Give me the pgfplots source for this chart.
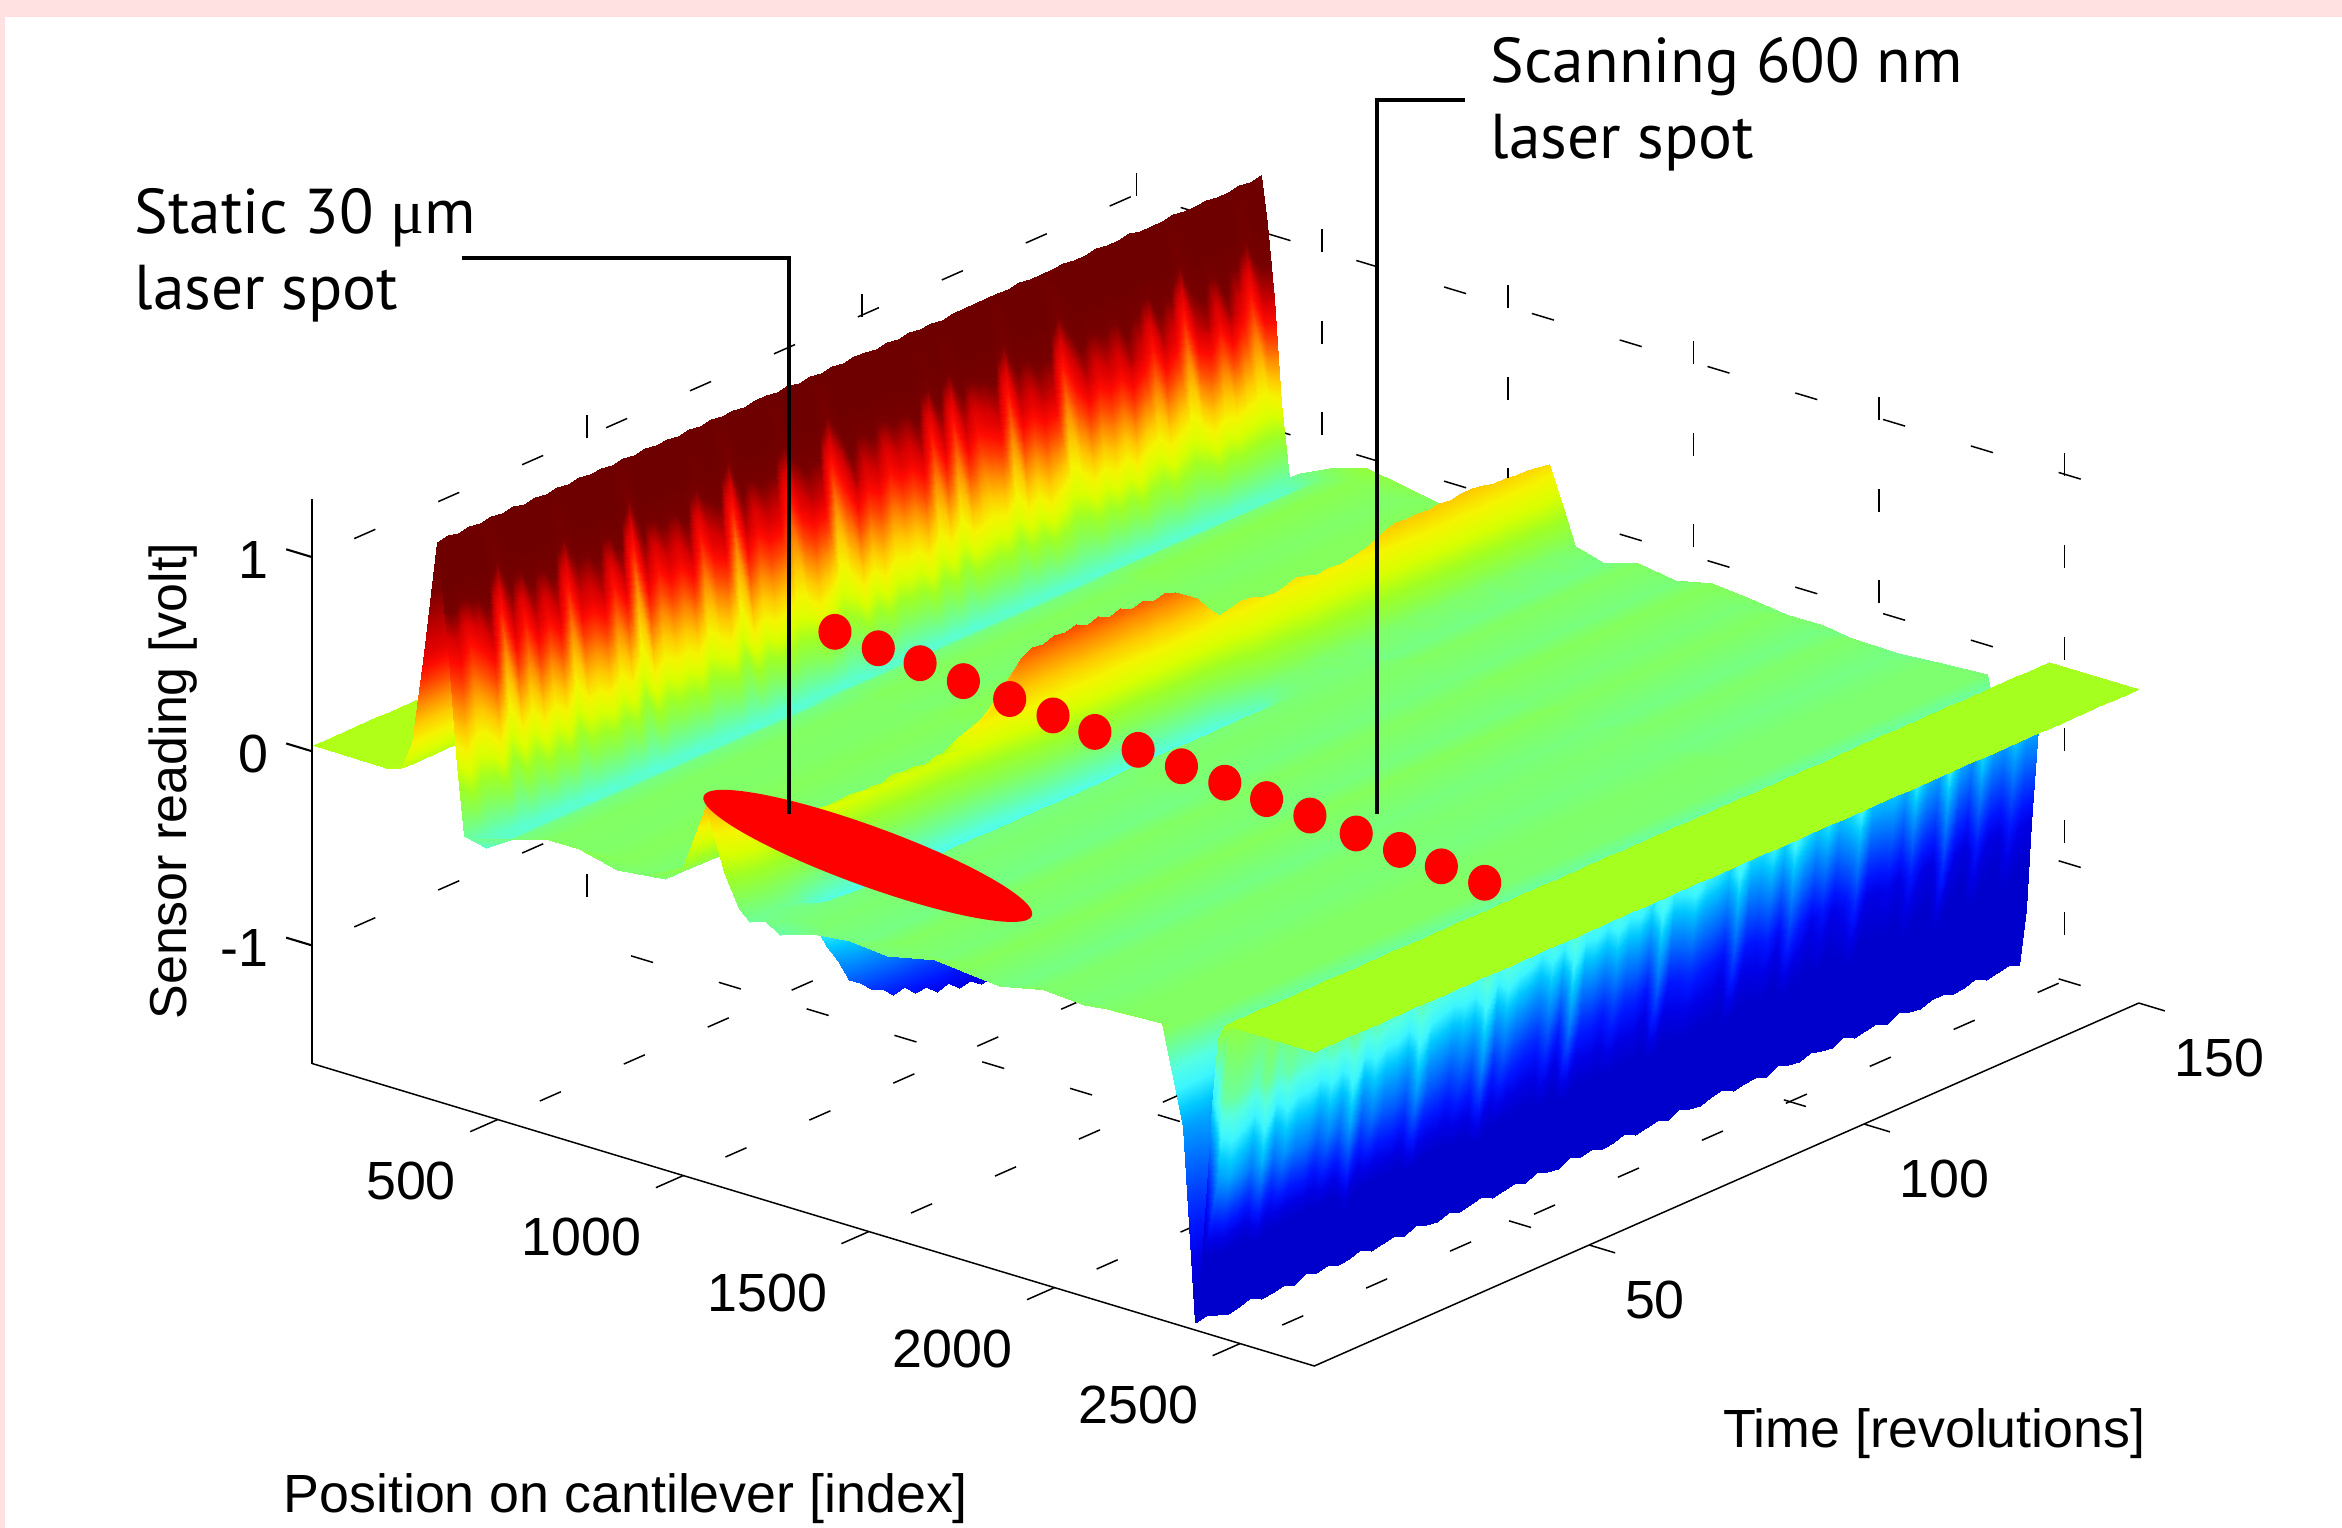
\documentclass[border=0pt]{standalone}
\usepackage{fontspec}
\setmainfont{Liberation Sans}
\newfontfamily\anno{PT Sans}
\newfontfamily\sym{Liberation Serif}
\usepackage{pgfplots}
\pgfplotsset{compat=1.18}
\definecolor{pagepink}{RGB}{255,225,225}
\pgfplotsset{colormap={rjet}{rgb255=(0,0,205) rgb255=(0,0,205) rgb255=(0,0,230) rgb255=(0,20,255) rgb255=(0,60,255) rgb255=(0,105,255) rgb255=(0,150,255) rgb255=(0,200,255) rgb255=(60,245,255) rgb255=(85,255,225) rgb255=(110,255,150) rgb255=(135,255,85) rgb255=(160,255,35) rgb255=(215,255,0) rgb255=(245,245,0) rgb255=(255,200,0) rgb255=(255,140,0) rgb255=(255,70,0) rgb255=(255,10,0) rgb255=(215,0,0) rgb255=(120,0,0) rgb255=(110,0,0)}}
% x;z per column (z empty = z from the row); each row lists the colour values
\def\xlist{0;,200;,240;,270;,300;,335;,350;1.05,370;.68,390;.15,410;,440;,520;,620;,720;,820;,920;,1000;,1060;,1110;,1150;,1180;,1220;,1260;,1350;,1450;,1550;,1650;,1750;,1850;,1950;,2050;,2170;,2290;,2345;,2378;,2395;-1.3,2410;-.85,2425;-.42,2440;-.07,2459;,2700;}
\def\coords{}
\def\popx#1;#2,#3\end{\def\curx{#1}\def\curg{#2}\def\restx{#3}}
\def\doz#1 {\ifx\relax#1\else\expandafter\popx\restx\end\ifx\curg\empty\xdef\coords{\coords(\curx,\cy,#1)[#1]}\else\xdef\coords{\coords(\curx,\cy,\curg)[#1]}\fi\expandafter\doz\fi}
\def\R#1#2#3#4{\def\cy{#1}\edef\restx{\xlist,}\edef\zs{.03 .03 .05 .2 .68 #2 \bgA\space #3 \bgB\space #4 .01 .01 }\expandafter\doz\zs\relax{} }
\def\bgA{-.18 -.11 -.05 -.09 -.12 -.06}\def\bgB{-.17 -.12 -.15 -.11 -.13 -.15 -.15 -.18 -.18 -.16 -.15}
\R{150}{1.29 1.05 .72 .18 -.22}{-.06 .14 .25 .05 -.13 -.15}{-.62 -1.6 -1.38 -1.02 -.62 -.3}
\def\bgA{-.26 -.15 -.09 -.13 -.11 -.12}\def\bgB{-.17 -.12 -.16 -.11 -.15 -.12 -.17 -.13 -.17 -.14 -.14}
\R{148}{1.28 1.04 .7 .14 -.24}{-.07 .15 .26 .04 -.12 -.16}{-.6 -1.58 -1.37 -1 -.62 -.3}
\R{146}{1.29 .84 .54 .14 -.25}{-.07 .14 .27 .06 -.14 -.15}{-.58 -1.59 -1.36 -.92 -.54 -.27}
\R{144}{1.28 1 .66 .16 -.27}{-.08 .15 .27 .04 -.13 -.14}{-.6 -1.6 -1.38 -1.04 -.64 -.32}
\R{142}{1.28 1.04 .75 .18 -.26}{-.07 .15 .28 .05 -.12 -.16}{-.6 -1.57 -1.37 -1.02 -.62 -.3}
\R{140}{1.29 .98 .64 .16 -.28}{-.07 .16 .28 .03 -.14 -.15}{-.58 -1.59 -1.3 -.9 -.5 -.26}
\R{138}{1.28 1.05 .74 .2 -.26}{-.08 .16 .29 .05 -.13 -.15}{-.6 -1.6 -1.38 -1.05 -.66 -.32}
\R{136}{1.28 1.02 .7 .14 -.28}{-.07 .17 .3 .05 -.12 -.14}{-.6 -1.58 -1.36 -1 -.6 -.3}
\R{134}{1.29 .82 .5 .1 -.27}{-.07 .16 .3 .04 -.14 -.16}{-.57 -1.58 -1.25 -.82 -.44 -.24}
\R{132}{1.28 1 .66 .14 -.29}{-.08 .16 .29 .05 -.13 -.15}{-.6 -1.6 -1.37 -1.03 -.62 -.3}
\R{130}{1.28 1.04 .72 .18 -.27}{-.07 .17 .3 .06 -.12 -.15}{-.6 -1.59 -1.36 -1 -.58 -.28}
\R{128}{1.28 .88 .58 .12 -.28}{-.07 .16 .29 .04 -.14 -.14}{-.58 -1.57 -1.33 -.9 -.46 -.24}
\R{126}{1.29 1.02 .68 .14 -.26}{-.08 .16 .3 .05 -.13 -.16}{-.6 -1.6 -1.37 -1.02 -.6 -.3}
\R{124}{1.28 1.05 .74 .2 -.28}{-.07 .15 .29 .05 -.12 -.15}{-.6 -1.58 -1.35 -.97 -.54 -.27}
\R{122}{1.28 .98 .66 .14 -.29}{-.07 .16 .3 .04 -.14 -.15}{-.57 -1.59 -1.36 -1 -.56 -.26}
\R{120}{1.29 1.03 .7 .18 -.27}{-.08 .15 .28 .05 -.13 -.14}{-.6 -1.6 -1.36 -1 -.56 -.28}
\R{118}{1.28 1 .66 .14 -.28}{-.07 .13 .25 .03 -.12 -.16}{-.6 -1.57 -1.28 -.84 -.42 -.22}
\R{116}{1.28 1.04 .72 .18 -.27}{-.07 .12 .23 .03 -.14 -.15}{-.58 -1.6 -1.34 -.95 -.5 -.24}
\R{114}{1.29 .94 .62 .12 -.28}{-.07 .12 .22 .02 -.13 -.15}{-.6 -1.59 -1.36 -1 -.56 -.27}
\R{112}{1.28 .8 .48 .1 -.26}{-.08 .12 .21 .02 -.12 -.14}{-.6 -1.58 -1.33 -.92 -.48 -.22}
\R{110}{1.28 1.03 .7 .16 -.29}{-.07 .12 .22 .02 -.14 -.16}{-.56 -1.6 -1.36 -.98 -.54 -.26}
\def\bgA{-.26 -.16 -.11 -.14 -.1 -.14}\def\bgB{-.15 -.13 -.16 -.12 -.16 -.11 -.16 -.14 -.16 -.13 -.14}
\R{108}{1.28 1.05 .72 .2 -.27}{-.07 .12 .21 .02 -.13 -.15}{-.58 -1.59 -1.34 -.9 -.48 -.24}
\R{106}{1.29 1 .66 .14 -.28}{-.07 .13 .23 .03 -.12 -.15}{-.6 -1.57 -1.24 -.8 -.4 -.2}
\R{104}{1.28 1.03 .7 .18 -.27}{-.08 .12 .24 .02 -.14 -.14}{-.6 -1.6 -1.35 -.96 -.52 -.26}
\R{102}{1.28 .82 .5 .1 -.29}{-.07 .12 .22 .02 -.13 -.16}{-.56 -1.58 -1.33 -.88 -.44 -.22}
\R{100}{1.28 1.04 .7 .16 -.27}{-.07 .12 .21 .01 -.12 -.15}{-.58 -1.59 -1.34 -.92 -.5 -.2}
\R{98}{1.28 1.02 .66 .14 -.28}{-.07 .12 .22 .01 -.14 -.15}{-.6 -1.6 -1.34 -.92 -.5 -.24}
\R{96}{1.28 .95 .62 .16 -.26}{-.08 .13 .24 .01 -.15 -.16}{-.58 -1.57 -1.22 -.76 -.38 -.2}
\R{94}{1.28 1.04 .7 .18 -.28}{-.07 .14 .25 .0 -.2 -.17}{-.6 -1.58 -1.35 -.94 -.5 -.24}
\R{92}{1.27 .84 .52 .1 -.3}{-.07 .13 .23 -.05 -.3 -.2}{-.56 -1.6 -1.32 -.9 -.46 -.17}
\R{90}{1.28 1.03 .7 .18 -.27}{-.07 .12 .22 -.1 -.42 -.25}{-.58 -1.59 -1.33 -.88 -.44 -.22}
\R{88}{1.27 .86 .54 .12 -.28}{-.07 .16 .28 -.2 -.6 -.34}{-.6 -1.57 -1.3 -.84 -.38 -.18}
\R{86}{1.28 1.04 .72 .2 -.27}{-.07 .2 .36 -.28 -.8 -.46}{-.58 -1.6 -1.33 -.88 -.42 -.15}
\R{84}{1.27 1 .66 .14 -.29}{-.08 .22 .4 -.3 -.92 -.52}{-.6 -1.58 -1.33 -.9 -.44 -.22}
\R{82}{1.28 1.03 .68 .16 -.27}{-.07 .24 .44 -.3 -.94 -.54}{-.58 -1.59 -1.2 -.72 -.34 -.18}
\R{80}{1.27 .96 .62 .14 -.3}{-.07 .25 .46 -.32 -.9 -.52}{-.6 -1.6 -1.34 -.92 -.46 -.22}
\R{78}{1.28 1.04 .7 .2 -.27}{-.08 .24 .44 -.3 -.96 -.55}{-.57 -1.57 -1.32 -.86 -.4 -.14}
\R{76}{1.28 1.02 .66 .14 -.28}{-.07 .26 .47 -.32 -.92 -.53}{-.6 -1.59 -1.32 -.86 -.42 -.2}
\R{74}{1.27 1.05 .74 .2 -.26}{-.07 .25 .45 -.34 -.95 -.54}{-.58 -1.6 -1.3 -.8 -.36 -.17}
\R{72}{1.28 .92 .6 .12 -.29}{-.07 .27 .48 -.32 -.93 -.53}{-.6 -1.58 -1.33 -.88 -.42 -.2}
\R{70}{1.27 .8 .46 .08 -.27}{-.08 .26 .46 -.33 -.96 -.55}{-.58 -1.59 -1.3 -.84 -.38 -.13}
\R{68}{1.28 1.03 .7 .16 -.3}{-.07 .27 .49 -.34 -.94 -.54}{-.6 -1.57 -1.31 -.84 -.4 -.18}
\R{66}{1.27 1.05 .72 .2 -.27}{-.07 .26 .47 -.33 -.98 -.56}{-.57 -1.6 -1.18 -.66 -.3 -.16}
\R{64}{1.28 1 .66 .14 -.28}{-.07 .28 .5 -.34 -.95 -.55}{-.6 -1.59 -1.33 -.88 -.42 -.2}
\R{62}{1.27 .84 .52 .12 -.28}{-.08 .27 .48 -.35 -.97 -.56}{-.58 -1.57 -1.26 -.76 -.36 -.14}
\def\bgA{-.27 -.17 -.12 -.13 -.11 -.15}\def\bgB{-.16 -.14 -.17 -.12 -.15 -.11 -.17 -.13 -.15 -.12 -.12}
\R{60}{1.28 1.02 .68 .16 -.29}{-.07 .27 .49 -.34 -.98 -.55}{-.6 -1.6 -1.32 -.86 -.42 -.18}
\R{58}{1.28 1.04 .7 .18 -.27}{-.07 .26 .47 -.35 -.96 -.56}{-.58 -1.58 -1.3 -.84 -.38 -.12}
\R{56}{1.27 .97 .64 .14 -.28}{-.08 .27 .48 -.35 -1 -.57}{-.6 -1.59 -1.3 -.8 -.36 -.17}
\R{54}{1.28 1.04 .72 .2 -.26}{-.07 .25 .45 -.36 -1 -.58}{-.57 -1.6 -1.27 -.74 -.32 -.15}
\R{52}{1.27 .8 .46 .08 -.3}{-.07 .2 .35 -.4 -1.03 -.6}{-.6 -1.57 -1.31 -.82 -.38 -.17}
\R{50}{1.28 1.02 .7 .18 -.27}{-.07 .15 .27 -.42 -1.05 -.6}{-.58 -1.59 -1.14 -.62 -.28 -.12}
\R{48}{1.27 1.03 .66 .14 -.28}{-.08 .13 .24 -.43 -1.04 -.6}{-.6 -1.6 -1.29 -.78 -.36 -.16}
\R{46}{1.28 .86 .54 .1 -.28}{-.07 .11 .2 -.44 -1.07 -.62}{-.58 -1.58 -1.26 -.74 -.34 -.14}
\R{44}{1.27 1.03 .72 .18 -.26}{-.07 .06 .1 -.44 -1.03 -.6}{-.6 -1.6 -1.31 -.8 -.36 -.16}
\R{42}{1.28 1 .64 .14 -.29}{-.07 .07 .12 -.42 -1.04 -.58}{-.57 -1.59 -1.28 -.76 -.34 -.1}
\R{40}{1.27 1.02 .68 .16 -.28}{-.08 .05 .09 -.44 -1 -.58}{-.6 -1.57 -1.28 -.74 -.32 -.15}
\R{38}{1.28 .94 .6 .12 -.27}{-.07 .06 .1 -.42 -1.01 -.56}{-.58 -1.6 -1.16 -.6 -.26 -.13}
\R{36}{1.27 1.03 .7 .18 -.28}{-.07 .06 .09 -.43 -.96 -.55}{-.6 -1.58 -1.3 -.76 -.34 -.15}
\R{34}{1.28 .78 .44 .06 -.3}{-.07 .07 .11 -.4 -.98 -.54}{-.57 -1.59 -1.27 -.72 -.3 -.11}
\R{32}{1.27 1.03 .7 .18 -.27}{-.08 .05 .1 -.42 -.93 -.54}{-.6 -1.6 -1.27 -.72 -.3 -.13}
\R{30}{1.28 .9 .58 .12 -.28}{-.07 .06 .11 -.4 -.94 -.52}{-.58 -1.57 -1.24 -.66 -.26 -.11}
\R{28}{1.27 1.02 .72 .18 -.26}{-.07 .05 .09 -.38 -.88 -.5}{-.6 -1.59 -1.29 -.74 -.3 -.13}
\R{26}{1.28 1 .66 .14 -.29}{-.07 .07 .12 -.38 -.9 -.5}{-.57 -1.6 -1.1 -.56 -.22 -.09}
\R{24}{1.27 1.02 .68 .16 -.27}{-.08 .06 .1 -.36 -.84 -.48}{-.6 -1.58 -1.26 -.7 -.28 -.12}
\R{22}{1.28 .82 .5 .08 -.3}{-.07 .06 .11 -.36 -.82 -.46}{-.58 -1.59 -1.23 -.64 -.24 -.1}
\R{20}{1.27 1.02 .7 .18 -.27}{-.07 .07 .12 -.34 -.76 -.44}{-.6 -1.57 -1.28 -.72 -.28 -.12}
\R{18}{1.28 .96 .62 .12 -.28}{-.07 .07 .11 -.33 -.72 -.42}{-.57 -1.6 -1.24 -.66 -.26 -.1}
\R{16}{1.27 1.03 .7 .18 -.27}{-.06 .08 .14 -.3 -.6 -.36}{-.6 -1.58 -1.25 -.66 -.26 -.11}
\R{14}{1.28 .88 .56 .1 -.28}{-.06 .11 .2 -.26 -.5 -.3}{-.58 -1.59 -1.22 -.6 -.22 -.09}
\R{12}{1.27 1.02 .68 .16 -.27}{-.05 .14 .24 -.2 -.38 -.24}{-.6 -1.6 -1.26 -.68 -.26 -.11}
\R{10}{1.28 .8 .46 .06 -.28}{-.05 .17 .28 -.14 -.25 -.2}{-.56 -1.57 -1.14 -.54 -.18 -.08}
\R{8}{1.27 1.02 .7 .18 -.26}{-.04 .2 .3 -.12 -.2 -.18}{-.6 -1.59 -1.24 -.66 -.26 -.1}
\R{6}{1.28 1 .62 .12 -.26}{-.04 .22 .31 -.1 -.19 -.17}{-.58 -1.6 -1.2 -.6 -.22 -.09}
\R{4}{1.27 .9 .56 .1 -.24}{-.03 .26 .28 -.1 -.18 -.17}{-.55 -1.58 -1.18 -.56 -.2 -.08}
\R{2}{1.28 1 .64 .16 -.23}{-.03 .3 .18 -.12 -.19 -.18}{-.58 -1.56 -1.2 -.6 -.22 -.09}
\def\bgA{-.2 -.15 -.09 -.09 -.14 -.1}\def\bgB{-.22 -.16 -.14 -.16 -.1 -.12 -.14 -.09 -.1 -.09 -.08}
\R{0}{1.27 .95 .6 .1 -.2}{-.02 .33 .02 -.15 -.2 -.17}{-.58 -1.57 -1.3 -.9 -.45 -.1}
\begin{document}
\begin{tikzpicture}
\path[use as bounding box] (0pt,0pt) rectangle (784pt,-511.5pt);
\fill[pagepink] (0pt,0pt) rectangle (784pt,-511.5pt);
\fill[white] (1.6pt,-5.7pt) rectangle (784pt,-511.5pt);
\begin{axis}[
 anchor=origin, at={(104.5pt,-251.5pt)},
 x={(0.12425pt,-0.0375pt)}, y={(1.84pt,0.81pt)}, z={(0pt,65pt)},
 xmin=0,xmax=2700,ymin=0,ymax=150,zmin=-1.608,zmax=1.3,
 xtick={500,1000,1500,2000,2500}, ytick={50,100,150}, ztick={-1,0,1},
 grid=major, major grid style={black,line width=0.5pt,dash pattern=on 7.7pt off 23pt,dash phase=15.3pt},
 axis line style={draw=none}, major tick length=0pt,
 tick label style={font=\fontsize{18}{20}\selectfont,/pgf/number format/assume math mode=true,/pgf/number format/1000 sep={}},
 xticklabel style={anchor=east,xshift=-10.5pt,yshift=-20.5pt},
 yticklabel style={anchor=west,xshift=8.5pt,yshift=-18.5pt},
 zticklabel style={anchor=east,xshift=-11pt,yshift=-1pt},
 clip=false,
 colormap name=rjet, point meta min=-1.2, point meta max=0.9,
 z buffer=default,
]
\edef\doplot{\noexpand\addplot3[surf,shader=interp,mesh/rows=76,mesh/cols=41,point meta=explicit] coordinates {\coords};}
\doplot
\draw[black,line width=0.5pt] (axis cs:0,0,-1.608)--(axis cs:2700,0,-1.608)--(axis cs:2700,150,-1.608);
\draw[black,line width=0.7pt] (axis cs:0,0,-1.608)--(axis cs:0,0,1.3);
\foreach \t in {500,1000,1500,2000,2500}{\edef\q{\noexpand\draw[black,line width=0.5pt] (axis cs:\t,0,-1.608)--(axis cs:\t,-5,-1.608);}\q}
\foreach \t in {50,100,150}{\edef\q{\noexpand\draw[black,line width=0.5pt] (axis cs:2700,\t,-1.608)--(axis cs:2770,\t,-1.608);}\q}
\foreach \t in {-1,0,1}{\edef\q{\noexpand\draw[black,line width=0.7pt] (axis cs:0,0,\t)--(axis cs:-70,0,\t);}\q}
\end{axis}
\begin{axis}[
 anchor=north west, at={(0pt,0pt)}, x=0.5pt, y=0.5pt, y dir=reverse,
 hide axis, xmin=0,xmax=1568,ymin=0,ymax=1023, clip=false,
]
\addplot[only marks,mark=*,mark size=5.8pt,red,mark options={draw=none,fill=red,xscale=.92}] coordinates {
(559,423)(588,434)(616,444)(645,456)(676,468)(705,479)(733,490)(762,502)(791,513)(820,524)(848,535)(877,546)(908,558)(937,569)(965,580)(994,591)};
\fill[red] (581,573) ellipse [x radius=117,y radius=20,rotate=-20];
\draw[black,line width=1.3pt] (309,173)--(528,173)--(528,545);
\draw[black,line width=1.3pt] (981,67)--(922,67)--(922,545);
\node[anchor=west,font=\anno\fontsize{21.2}{25.5}\selectfont,align=left] at (83,171) {Static 30 {\sym μ}m\\laser spot};
\node[anchor=west,font=\anno\fontsize{21.2}{25.5}\selectfont,align=left] at (991,70) {Scanning 600 nm\\laser spot};
\node[font=\fontsize{18}{20}\selectfont] at (419,1003) {Position on cantilever [index]};
\node[font=\fontsize{18}{20}\selectfont] at (1295,960) {Time [revolutions]};
\node[font=\fontsize{17.4}{20}\selectfont,rotate=90] at (116,523) {Sensor reading [volt]};
\end{axis}
\end{tikzpicture}
\end{document}
